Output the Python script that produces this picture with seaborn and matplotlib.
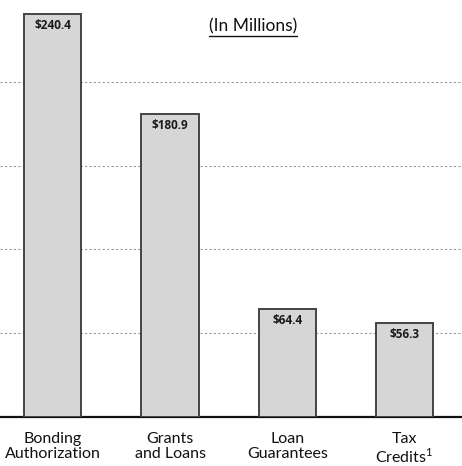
import matplotlib
matplotlib.use("Agg")
import matplotlib.pyplot as plt
import pandas as pd
import seaborn as sns

categories = ["Bonding\nAuthorization", "Grants\nand Loans", "Loan\nGuarantees", "Tax\nCredits$^{\\mathregular{1}}$"]
values = [240.4, 180.9, 64.4, 56.3]
value_labels = ["$240.4", "$180.9", "$64.4", "$56.3"]
grid_levels = [50, 100, 150, 200]

sns.set_theme(style="white")
plt.rcParams["font.family"] = ["Lato", "DejaVu Sans"]

df = pd.DataFrame({"program": categories, "amount": values})

fig = plt.figure(figsize=(4.62, 4.66), dpi=100)
ax = fig.add_axes([0, 0.105, 1, 0.895])

sns.barplot(data=df, x="program", y="amount", ax=ax, width=0.49,
            color="#d6d6d6", edgecolor="#444444", linewidth=1.4, saturation=1, zorder=3)

for y in grid_levels:
    ax.axhline(y, color="#9a9a9a", lw=0.8, ls=(0, (2, 2)), zorder=1)

for i, (v, lab) in enumerate(zip(values, value_labels)):
    ax.text(i, v - 3, lab.replace("$", r"\$"), ha="center", va="top",
            fontsize=8.5, fontweight="bold", family=["Open Sans", "DejaVu Sans"],
            color="#1a1a1a", zorder=4)

ax.set_xlim(-0.45, 3.49)
ax.set_ylim(0, 248.8)
ax.set_xlabel("")
ax.set_ylabel("")
ax.set_yticks([])
ax.tick_params(axis="x", length=0, pad=11, labelsize=11.5, labelcolor="#111111")
for t in ax.get_xticklabels():
    t.set_linespacing(1.05)
for s in ["top", "left", "right"]:
    ax.spines[s].set_visible(False)
ax.spines["bottom"].set_color("#111111")
ax.spines["bottom"].set_linewidth(1.6)

title = ax.text(0.548, 0.925, "(In Millions)", transform=ax.transAxes,
                ha="center", va="baseline", fontsize=12.5, color="#111111")
fig.canvas.draw()
bb = title.get_window_extent().transformed(ax.transAxes.inverted())
ax.plot([bb.x0, bb.x1], [bb.y0 - 0.004, bb.y0 - 0.004], transform=ax.transAxes,
        color="#111111", lw=1.0, clip_on=False)

fig.savefig("out.png", dpi=100)
